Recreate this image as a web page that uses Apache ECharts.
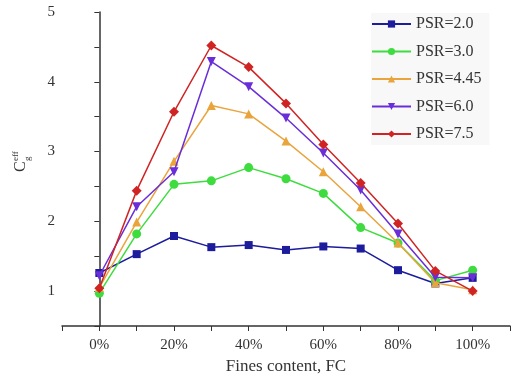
<!DOCTYPE html>
<html>
<head>
<meta charset="utf-8">
<script src="https://cdn.jsdelivr.net/npm/echarts@6/dist/echarts.min.js"></script>
<style>
  html, body { margin: 0; padding: 0; background: #fff; }
  #chart { width: 519px; height: 382px; }
</style>
</head>
<body>
<div id="chart"></div>
<script>
// Fines content (%) at each test point
const finesContent = [0, 10, 20, 30, 40, 50, 60, 70, 80, 90, 100];

// Effective coefficient for each particle size ratio
const psr20  = [1.26, 1.53, 1.79, 1.63, 1.66, 1.59, 1.64, 1.61, 1.30, 1.11, 1.19];
const psr30  = [0.97, 1.82, 2.53, 2.58, 2.77, 2.61, 2.40, 1.91, 1.69, 1.15, 1.30];
const psr445 = [1.05, 1.99, 2.86, 3.66, 3.54, 3.15, 2.71, 2.21, 1.69, 1.12, 1.02];
const psr60  = [1.22, 2.21, 2.71, 4.29, 3.93, 3.48, 2.98, 2.45, 1.82, 1.20, 1.19];
const psr75  = [1.04, 2.44, 3.57, 4.52, 4.21, 3.69, 3.10, 2.55, 1.97, 1.29, 1.00];

const seriesNames = ['PSR=2.0', 'PSR=3.0', 'PSR=4.45', 'PSR=6.0', 'PSR=7.5'];
const xTickLabels = ['0%', '20%', '40%', '60%', '80%', '100%'];
const yTickLabels = ['1', '2', '3', '4', '5'];

const serif = '"Liberation Serif", "DejaVu Serif", serif';
const ink = '#333';

const styles = [
  { color: '#1c1c9c', symbol: 'rect', size: 8, rotate: 0 },
  { color: '#3fdc3f', symbol: 'circle', size: 9, rotate: 0 },
  { color: '#eaa43c', symbol: 'triangle', size: 9, rotate: 0 },
  { color: '#6a2ed8', symbol: 'triangle', size: 9, rotate: 180 },
  { color: '#d02424', symbol: 'diamond', size: 10, rotate: 0 }
];
const values = [psr20, psr30, psr445, psr60, psr75];

const chart = echarts.init(document.getElementById('chart'), null, { renderer: 'canvas' });

const series = values.map((vals, i) => ({
  name: seriesNames[i],
  type: 'line',
  data: finesContent.map((x, j) => [x, vals[j]]),
  symbol: styles[i].symbol,
  symbolSize: styles[i].size,
  symbolRotate: styles[i].rotate,
  itemStyle: { color: styles[i].color },
  lineStyle: { color: styles[i].color, width: 1.5 },
  emphasis: { disabled: true },
  animation: false,
  z: 2 + i
}));

chart.setOption({
  backgroundColor: '#ffffff',
  animation: false,
  grid: { left: 62, right: 9, top: 12, bottom: 56 },
  xAxis: {
    type: 'value',
    min: -10,
    max: 110,
    interval: 10,
    name: 'Fines content, FC',
    nameLocation: 'middle',
    nameGap: 30,
    nameTextStyle: { fontFamily: serif, fontSize: 17, color: ink },
    axisLine: { lineStyle: { color: ink, width: 1.5 } },
    axisTick: { length: 5, lineStyle: { color: ink, width: 1 } },
    axisLabel: {
      fontFamily: serif, fontSize: 15, color: ink, margin: 12,
      showMinLabel: true, showMaxLabel: true,
      formatter: v => {
        const k = Math.round(v);
        if (k >= 0 && k <= 100 && k % 20 === 0) return xTickLabels[k / 20];
        return '';
      }
    },
    splitLine: { show: false }
  },
  yAxis: {
    type: 'value',
    min: 0.5,
    max: 5,
    interval: 0.5,
    axisLine: { show: true, lineStyle: { color: ink, width: 1.5 } },
    axisTick: { show: true, length: 5, lineStyle: { color: ink, width: 1 } },
    axisLabel: {
      fontFamily: serif, fontSize: 15, color: ink, margin: 7,
      formatter: v => {
        const r = Math.round(v * 10) / 10;
        if (Number.isInteger(r) && r >= 1) return yTickLabels[r - 1];
        return '';
      }
    },
    splitLine: { show: false }
  },
  legend: {
    orient: 'vertical',
    left: 371,
    top: 13,
    itemWidth: 39,
    itemHeight: 9,
    itemGap: 11.5,
    backgroundColor: 'rgba(244,244,244,0.6)',
    padding: [3, 8, 3, 0],
    textStyle: { fontFamily: serif, fontSize: 16, color: ink },
    data: seriesNames
  },
  graphic: [
    {
      // y-axis title: C with stacked superscript "eff" and subscript "g", read bottom-to-top
      type: 'group',
      x: 29,
      y: 172,
      rotation: Math.PI / 2,
      children: [
        { type: 'text', x: 0, y: 0,
          style: { text: 'C', font: '16px ' + serif, fill: ink, textVerticalAlign: 'bottom' } },
        { type: 'text', x: 11, y: -9,
          style: { text: 'eff', font: '9px ' + serif, fill: ink, textVerticalAlign: 'bottom' } },
        { type: 'text', x: 11, y: 3,
          style: { text: 'g', font: '9px ' + serif, fill: ink, textVerticalAlign: 'bottom' } }
      ]
    }
  ],
  series: series
});
</script>
</body>
</html>
